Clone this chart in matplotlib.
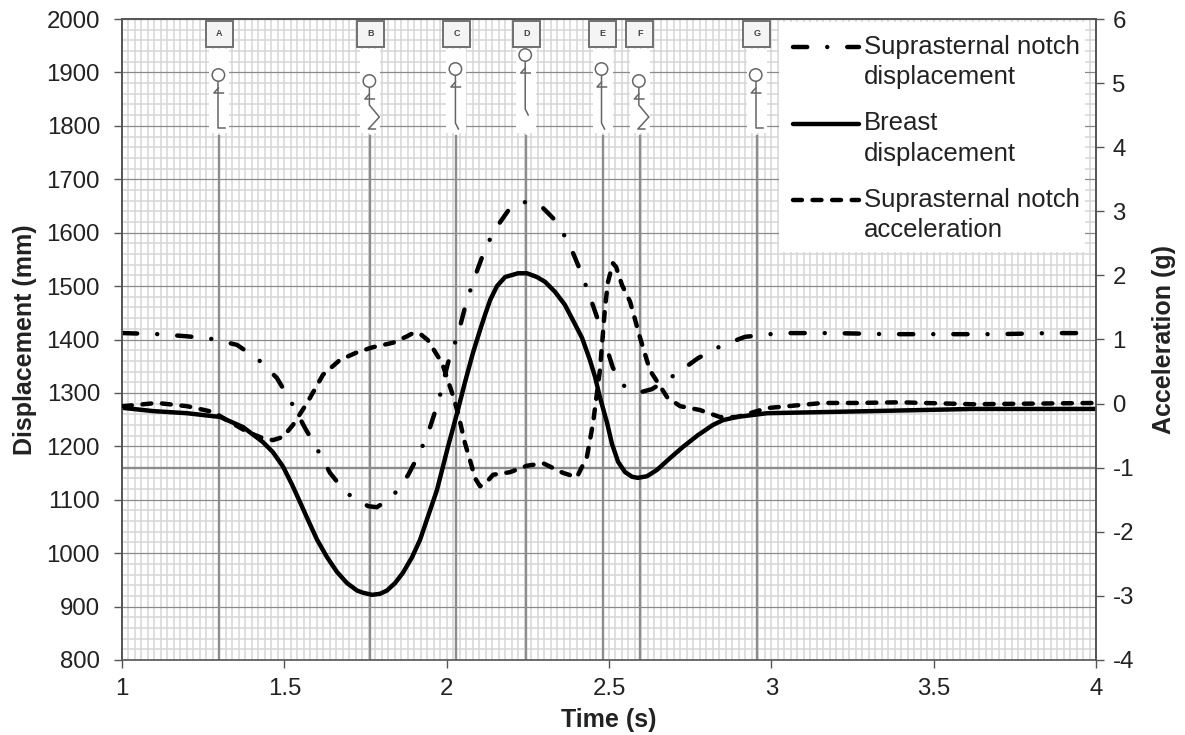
import matplotlib
matplotlib.use('Agg')
import matplotlib.pyplot as plt
from matplotlib.lines import Line2D
from matplotlib.patches import Rectangle, Circle
from matplotlib.ticker import MultipleLocator, FuncFormatter
from matplotlib.transforms import Affine2D

notch_t = [1.003, 1.111, 1.200, 1.277, 1.354, 1.419, 1.477, 1.521, 1.564, 1.601, 1.641, 1.690, 1.758, 1.785,
           1.832, 1.881, 1.918, 1.949, 1.976, 2.004, 2.035, 2.056, 2.081, 2.109, 2.143, 2.195, 2.226, 2.266,
           2.297, 2.328, 2.374, 2.405, 2.435, 2.463, 2.512, 2.549, 2.595, 2.632, 2.706, 2.774, 2.845, 2.919,
           3.027, 3.110, 3.190, 3.359, 3.529, 3.698, 3.864, 4.0]
notch_disp = [1412, 1410, 1406, 1401, 1390, 1363, 1328, 1283, 1234, 1195, 1150, 1113, 1088, 1086,
              1105, 1146, 1189, 1236, 1287, 1356, 1410, 1459, 1508, 1554, 1601, 1646, 1657, 1657,
              1646, 1627, 1584, 1539, 1491, 1442, 1347, 1311, 1301, 1307, 1335, 1365, 1388, 1405,
              1412, 1412, 1412, 1410, 1410, 1410, 1412, 1412]

breast_t = [1.003, 1.095, 1.200, 1.302, 1.373, 1.434, 1.465, 1.496, 1.524, 1.548, 1.573, 1.601, 1.631, 1.662,
            1.693, 1.724, 1.742, 1.770, 1.795, 1.816, 1.841, 1.865, 1.893, 1.918, 1.942, 1.970, 2.004, 2.032,
            2.056, 2.081, 2.103, 2.118, 2.134, 2.155, 2.180, 2.220, 2.247, 2.278, 2.303, 2.334, 2.364, 2.389,
            2.417, 2.441, 2.457, 2.472, 2.494, 2.509, 2.528, 2.549, 2.571, 2.589, 2.617, 2.648, 2.688, 2.728,
            2.774, 2.820, 2.851, 2.894, 2.987, 3.313, 3.621, 4.0]
breast_disp = [1272, 1266, 1262, 1255, 1236, 1208, 1189, 1162, 1128, 1096, 1062, 1025, 993, 965,
               944, 930, 926, 922, 924, 930, 944, 963, 992, 1025, 1068, 1118, 1199, 1262,
               1319, 1375, 1418, 1446, 1474, 1500, 1517, 1524, 1524, 1517, 1508, 1489, 1465, 1436,
               1403, 1362, 1330, 1292, 1244, 1205, 1171, 1152, 1143, 1141, 1144, 1156, 1178, 1199,
               1221, 1240, 1249, 1255, 1262, 1266, 1270, 1270]

accel_t = [1.003, 1.108, 1.200, 1.280, 1.385, 1.434, 1.465, 1.496, 1.527, 1.570, 1.619, 1.671, 1.724, 1.773,
           1.835, 1.878, 1.896, 1.918, 1.942, 1.986, 2.019, 2.035, 2.056, 2.078, 2.087, 2.103, 2.124, 2.143,
           2.195, 2.247, 2.297, 2.358, 2.401, 2.432, 2.451, 2.472, 2.488, 2.497, 2.512, 2.522, 2.540, 2.565,
           2.595, 2.626, 2.679, 2.719, 2.780, 2.842, 2.894, 2.987, 3.159, 3.264, 3.396, 3.621, 4.0]
accel_g = [-0.04, 0.01, -0.04, -0.13, -0.44, -0.54, -0.57, -0.52, -0.33, 0.01, 0.45, 0.68, 0.80, 0.88,
           0.95, 1.05, 1.10, 1.09, 0.99, 0.63, 0.13, -0.15, -0.61, -0.99, -1.16, -1.29, -1.22, -1.11,
           -1.07, -0.97, -0.93, -1.08, -1.15, -0.83, -0.30, 0.52, 1.51, 1.90, 2.19, 2.13, 1.85, 1.59,
           1.04, 0.52, 0.10, -0.04, -0.10, -0.21, -0.21, -0.07, 0.01, 0.01, 0.02, -0.01, 0.01]

event_t = [1.30, 1.765, 2.03, 2.245, 2.48, 2.595, 2.955]
event_names = ['A', 'B', 'C', 'D', 'E', 'F', 'G']
event_pose = ['stand', 'squat', 'toe', 'toe', 'toe', 'squat', 'stand']
event_head_y = [75, 81, 69, 55, 69, 81, 75]

legend_labels = [['Suprasternal notch', 'displacement'], ['Breast', 'displacement'],
                 ['Suprasternal notch', 'acceleration']]

W, H = 1185, 735
plt.rcParams['font.family'] = ['Liberation Sans', 'DejaVu Sans']
plt.rcParams['axes.unicode_minus'] = False
fig = plt.figure(figsize=(W/100, H/100), dpi=100)
ax = fig.add_axes([122/W, 1-660/H, 974/W, 641/H])
ax2 = ax.twinx()
ax2.patch.set_visible(False)
ink = '#222222'

ax.set_xlim(1, 4)
ax.set_ylim(800, 2000)
ax2.set_ylim(-4, 6)
ax.xaxis.set_major_locator(MultipleLocator(0.5))
ax.xaxis.set_minor_locator(MultipleLocator(0.02))
ax.yaxis.set_major_locator(MultipleLocator(100))
ax.yaxis.set_minor_locator(MultipleLocator(20))
ax2.yaxis.set_major_locator(MultipleLocator(1))
ax.xaxis.set_major_formatter(FuncFormatter(lambda v, p: '{:g}'.format(v)))

ax.set_axisbelow(True)
ax.grid(which='minor', axis='both', color='#d6d6d6', lw=1.1)
ax.grid(which='major', axis='x', color='#d6d6d6', lw=1.1)
ax.grid(which='major', axis='y', color='#8a8a8a', lw=0.9)
for a in (ax, ax2):
    a.tick_params(which='major', length=5.8, width=1, color='#555555', labelsize=17.3, labelcolor=ink)
    a.tick_params(which='minor', length=0)
    for s in a.spines.values():
        s.set_color('#555555')
        s.set_linewidth(1.2)
ax.tick_params(axis='y', pad=10)
ax.tick_params(axis='x', pad=7)
ax2.tick_params(axis='y', pad=6)
ax2.spines['bottom'].set_visible(False)
ax.set_xlabel('Time (s)', fontsize=18, fontweight='bold', color=ink, labelpad=6)
ax.set_ylabel('Displacement (mm)', fontsize=18, fontweight='bold', color=ink, labelpad=7)
ax2.set_ylabel('Acceleration (g)', fontsize=18, fontweight='bold', color=ink, labelpad=13)

# vertical event lines and the axis crossing at -1 g
for t in event_t:
    ax.axvline(t, ymax=(660-136)/641, color='#8c8c8c', lw=1.7, zorder=1.5)
ax.axhline(1160, color='#8c8c8c', lw=1.7, zorder=1.5)

dashdot = (0, (3.2, 4.5, 0.01, 4.5))
dashed = (0, (2, 2.4))
curve_lw = 3.2
ax.plot(notch_t, notch_disp, color='black', lw=curve_lw, ls=dashdot, dash_capstyle='round', zorder=3)
ax.plot(breast_t, breast_disp, color='black', lw=curve_lw, solid_capstyle='round', zorder=3)
ax2.plot(accel_t, accel_g, color='black', lw=curve_lw, ls=dashed, dash_capstyle='round', zorder=3)

# overlays are placed in pixels from the top left of the picture
px = Affine2D().scale(1, -1).translate(0, H)
poses = {
    'stand': [(0, 7), (0, 53), (7, 53)],
    'squat': [(0, 7), (0, 24), (10, 36), (-1, 48), (6, 48)],
    'toe': [(0, 7), (0, 54), (3, 60)],
}

def seg(xs, ys, lw=1.1, color='#666666'):
    fig.add_artist(Line2D(xs, ys, transform=px, color=color, lw=lw))

for t, name, pose, head in zip(event_t, event_names, event_pose, event_head_y):
    x = ax.transData.transform((t, 1000))[0]
    fig.add_artist(Rectangle((x-10, 49), 20, 84, transform=px, facecolor='white', edgecolor='none'))
    fig.add_artist(Rectangle((x-13.5, 21), 27, 26, transform=px, facecolor='#f4f4f4', edgecolor='#707070', lw=1.4))
    fig.text(x/W, 1-34/H, name, fontsize=6.5, fontweight='bold', color='#444444', ha='center', va='center')
    fig.add_artist(Circle((x-1, head), 6.2, transform=px, facecolor='white', edgecolor='#666666', lw=1.1))
    pts = poses[pose]
    seg([x-1+p[0] for p in pts], [head+p[1] for p in pts])
    seg([x-1, x-5.5, x+4], [head+13, head+18, head+18])

# legend, with each key level with the first line of its label
fig.add_artist(Rectangle((779, 22), 306, 230, transform=px, facecolor='white', edgecolor='none'))
key_styles = [dict(ls=dashdot, dash_capstyle='round'), dict(ls='-', solid_capstyle='round'),
              dict(ls=dashed, dash_capstyle='round')]
for i, (lab, style) in enumerate(zip(legend_labels, key_styles)):
    y0 = 47 + 76.5*i
    fig.add_artist(Line2D([793, 859], [y0, y0], transform=px, color='black', lw=curve_lw, **style))
    for j, line in enumerate(lab):
        fig.text(864/W, 1-(y0+30*j)/H, line, fontsize=18.5, color=ink, va='center', ha='left')

fig.savefig('out.png', dpi=100)
